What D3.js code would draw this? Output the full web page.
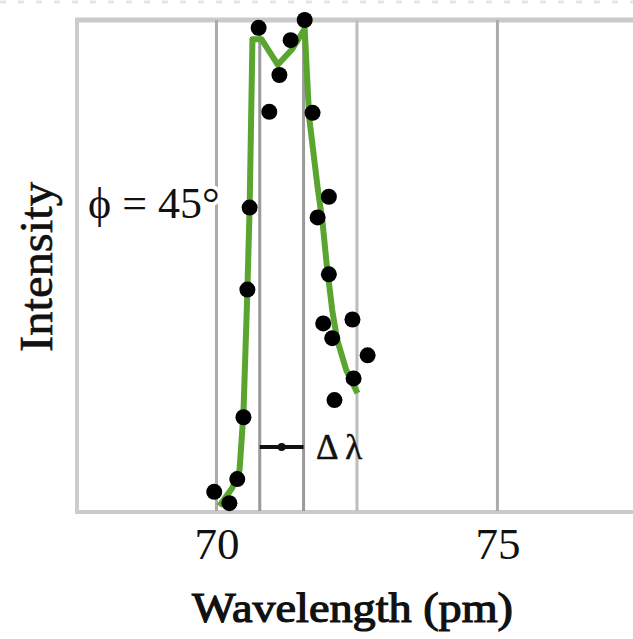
<!DOCTYPE html>
<html>
<head>
<meta charset="utf-8">
<script src="https://cdn.jsdelivr.net/npm/d3@7"></script>
<style>
  body { margin: 0; background: #fff; }
  text { font-family: "Liberation Serif", "Times New Roman", serif; fill: #111; }
</style>
</head>
<body>
<div class="chart"></div>
<script>
var w = 633;
var h = 639;

// measured points (wavelength pm, intensity %)
var dotX = [69.96, 70.23, 70.37, 70.48, 70.55, 70.59, 70.75, 70.94, 71.12, 71.32, 71.57,
            71.71, 71.80, 72.00, 72.00, 71.90, 72.42, 72.06, 72.69, 72.44, 72.10];
var dotY = [3.9, 1.6, 6.5, 19.1, 45.1, 61.8, 98.4, 81.3, 88.8, 95.9, 100,
            81.1, 59.8, 64.0, 48.2, 38.2, 39.0, 35.2, 31.7, 27.0, 22.6];

// fitted curve
var fitX = [70.05, 70.28, 70.41, 70.48, 70.55, 70.59, 70.64, 70.80, 71.09, 71.35, 71.57,
            71.65, 71.80, 71.89, 71.96, 72.06, 72.15, 72.31, 72.51];
var fitY = [1.0, 4.7, 8.3, 19.9, 44.9, 61.8, 96.1, 96.1, 90.9, 94.1, 98.2,
            80.1, 65.9, 58.5, 50.4, 40.9, 34.8, 28.7, 24.0];

var xTicks = [70, 75];
var gridLines = [70, 72.5, 75];
var deltaLines = [70.77, 71.55];

var xScale = d3.scaleLinear().domain([67.5, 78]).range([76, 666]);
var yScale = d3.scaleLinear().domain([0, 100]).range([511, 20]);

var svg = d3.select(".chart").append("svg")
    .attr("width", w)
    .attr("height", h);

// faint dotted line along the very top
svg.append("line")
    .attr("x1", 0).attr("x2", w)
    .attr("y1", 2).attr("y2", 2)
    .attr("stroke", "#e6e6e6")
    .attr("stroke-width", 3)
    .attr("stroke-dasharray", "6,12");

// frame
svg.append("line")
    .attr("x1", 76).attr("x2", w).attr("y1", 20).attr("y2", 20)
    .attr("stroke", "#cacaca").attr("stroke-width", 5);
svg.append("line")
    .attr("x1", 76).attr("x2", w).attr("y1", 512).attr("y2", 512)
    .attr("stroke", "#cacaca").attr("stroke-width", 4);
svg.append("line")
    .attr("x1", 77).attr("x2", 77).attr("y1", 18).attr("y2", 514)
    .attr("stroke", "#cccccc").attr("stroke-width", 4);

svg.selectAll(".grid")
    .data(gridLines)
    .enter()
    .append("line")
    .attr("class", "grid")
    .attr("x1", function(d) { return xScale(d); })
    .attr("x2", function(d) { return xScale(d); })
    .attr("y1", 20)
    .attr("y2", 511)
    .attr("stroke", function(d) { return d == 72.5 ? "#bdbdbd" : "#ababab"; })
    .attr("stroke-width", 3);

svg.selectAll(".dline")
    .data(deltaLines)
    .enter()
    .append("line")
    .attr("class", "dline")
    .attr("x1", function(d) { return xScale(d); })
    .attr("x2", function(d) { return xScale(d); })
    .attr("y1", 20)
    .attr("y2", 511)
    .attr("stroke", "#9a9a9a")
    .attr("stroke-width", 3);

// delta lambda marker
svg.append("line")
    .attr("x1", xScale(deltaLines[0])).attr("x2", xScale(deltaLines[1]))
    .attr("y1", 447).attr("y2", 447)
    .attr("stroke", "#111").attr("stroke-width", 4);
svg.append("circle")
    .attr("cx", (xScale(deltaLines[0]) + xScale(deltaLines[1])) / 2)
    .attr("cy", 447).attr("r", 4).attr("fill", "#111");
svg.append("text")
    .attr("x", 316).attr("y", 459)
    .attr("font-size", 35)
    .attr("stroke", "#111").attr("stroke-width", 0.5)
    .text("Δ λ");

// phi label, white halo hides the grid line behind it
svg.append("text")
    .attr("x", 88).attr("y", 218)
    .attr("font-size", 44)
    .attr("stroke", "#fff").attr("stroke-width", 8)
    .attr("paint-order", "stroke")
    .text("ϕ = 45°");

// fit line
var line = d3.line()
    .x(function(d) { return xScale(d[0]); })
    .y(function(d) { return yScale(d[1]); });

var fit = fitX.map(function(x, i) { return [x, fitY[i]]; });

svg.append("path")
    .datum(fit)
    .attr("d", line)
    .attr("fill", "none")
    .attr("stroke", "#5aa52f")
    .attr("stroke-width", 6)
    .attr("stroke-linejoin", "round");

svg.selectAll(".dot")
    .data(dotX.map(function(x, i) { return [x, dotY[i]]; }))
    .enter()
    .append("circle")
    .attr("class", "dot")
    .attr("cx", function(d) { return xScale(d[0]); })
    .attr("cy", function(d) { return yScale(d[1]); })
    .attr("r", 8)
    .attr("fill", "#000");

// x axis labels
var xAxis = d3.axisBottom(xScale)
    .tickValues(xTicks)
    .tickSize(0)
    .tickPadding(0);

var gx = svg.append("g")
    .attr("transform", "translate(0,527)")
    .call(xAxis);
gx.select(".domain").remove();
gx.selectAll("text")
    .attr("font-family", "Liberation Serif, serif")
    .attr("font-size", 45)
    .attr("dy", "0.71em")
    .attr("fill", "#111");

svg.append("text")
    .attr("x", 192).attr("y", 622)
    .attr("font-size", 42)
    .attr("stroke", "#111").attr("stroke-width", 1.2)
    .attr("textLength", 321)
    .attr("lengthAdjust", "spacingAndGlyphs")
    .text("Wavelength (pm)");

svg.append("text")
    .attr("transform", "translate(52,352) rotate(-90)")
    .attr("font-size", 46)
    .attr("stroke", "#111").attr("stroke-width", 0.6)
    .attr("textLength", 170)
    .attr("lengthAdjust", "spacingAndGlyphs")
    .text("Intensity");
</script>
</body>
</html>
